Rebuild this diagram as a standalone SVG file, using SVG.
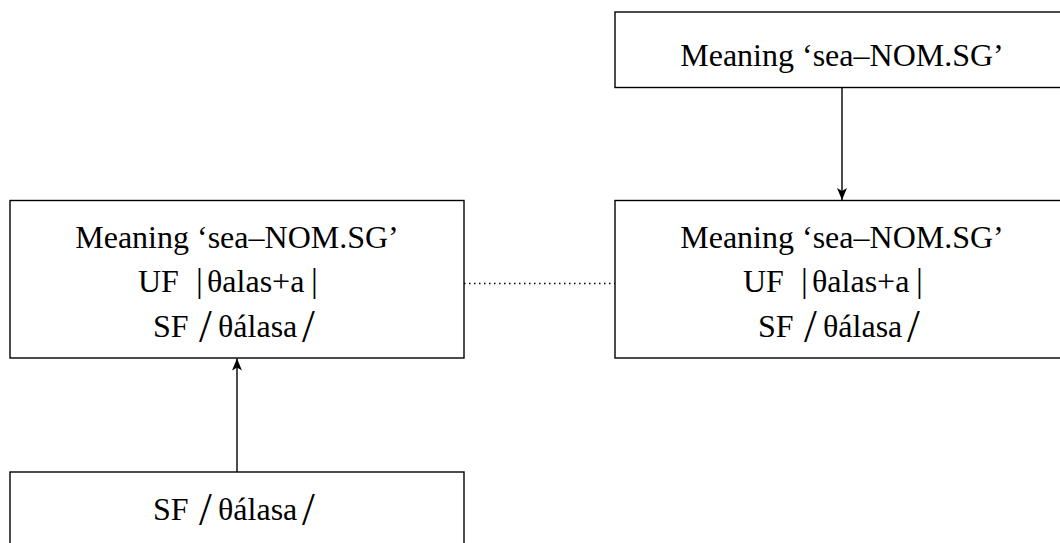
<svg xmlns="http://www.w3.org/2000/svg" width="1060" height="543" viewBox="0 0 1060 543">
<style>
.box{fill:#fff;stroke:#000;stroke-width:1.4}
.t{font-family:"Liberation Serif","Times New Roman",serif;font-size:32px;fill:#000}
.m{text-anchor:middle}
.sl{font-size:46px}
.bar{font-size:34px}
.edge{stroke:#000;stroke-width:1.4;fill:none}
.dot{stroke:#000;stroke-width:1.5;stroke-dasharray:1.5 3.5;fill:none}
</style>
<defs>
<marker id="ah" viewBox="0 0 12 10" refX="12" refY="5" markerWidth="12" markerHeight="10" markerUnits="userSpaceOnUse" orient="auto">
<path d="M0,0 L12,5 L0,10 L3,5 Z" fill="#000"/>
</marker>
</defs>
<g id="connectors">
<line class="edge" x1="842" y1="87.5" x2="842" y2="200" marker-end="url(#ah)"/>
<line class="edge" x1="237" y1="472" x2="237" y2="358.5" marker-end="url(#ah)"/>
<line class="dot" x1="464" y1="283.5" x2="615" y2="283.5"/>
</g>
<g id="top-right">
<rect class="box" x="615" y="12" width="454" height="75.5"/>
<text class="t m" x="842" y="66">Meaning ‘sea–NOM.SG’</text>
</g>
<g id="left">
<rect class="box" x="10" y="200.5" width="454" height="157.5"/>
<text class="t m" x="237" y="248">Meaning ‘sea–NOM.SG’</text>
<text class="t" y="292"><tspan x="138">UF</tspan><tspan class="bar" x="196">|</tspan><tspan x="207">θalas+a</tspan><tspan class="bar" x="311">|</tspan></text>
<text class="t" y="337"><tspan x="153">SF</tspan><tspan class="sl" x="199" dy="5">/</tspan><tspan x="218" dy="-5">θálasa</tspan><tspan class="sl" x="302" dy="5">/</tspan></text>
</g>
<g id="right">
<rect class="box" x="615" y="200.5" width="454" height="157.5"/>
<text class="t m" x="842" y="248">Meaning ‘sea–NOM.SG’</text>
<text class="t" y="292"><tspan x="743">UF</tspan><tspan class="bar" x="801">|</tspan><tspan x="812">θalas+a</tspan><tspan class="bar" x="916">|</tspan></text>
<text class="t" y="337"><tspan x="758">SF</tspan><tspan class="sl" x="804" dy="5">/</tspan><tspan x="823" dy="-5">θálasa</tspan><tspan class="sl" x="907" dy="5">/</tspan></text>
</g>
<g id="bottom-left">
<rect class="box" x="10" y="472" width="454" height="100"/>
<text class="t" y="520"><tspan x="153">SF</tspan><tspan class="sl" x="199" dy="5">/</tspan><tspan x="218" dy="-5">θálasa</tspan><tspan class="sl" x="302" dy="5">/</tspan></text>
</g>
</svg>
